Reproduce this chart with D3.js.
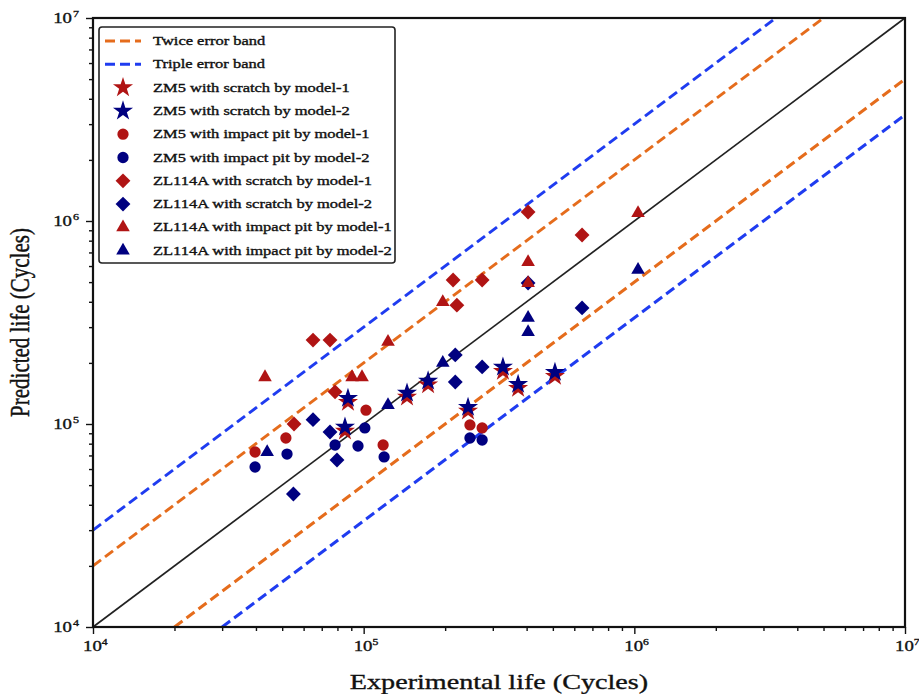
<!DOCTYPE html>
<html>
<head>
<meta charset="utf-8">
<script src="https://cdn.jsdelivr.net/npm/d3@7"></script>
<style>
  body { margin: 0; background: #fff; }
  text { font-family: "Liberation Serif", "Times New Roman", serif; fill: #111; stroke: #111; stroke-width: 0.35px; }
</style>
</head>
<body>
<div id="chart"></div>
<script>
// [experimental life, predicted life]
var zm5ScratchM1 = [[87500,128000],[85300,92400],[144600,136000],[173000,156000],[243000,116000],[327000,182000],[372000,150000],[509000,172000]];
var zm5ScratchM2 = [[87500,134000],[85300,96600],[144600,142000],[173000,163000],[243000,121000],[327000,191000],[372000,157000],[509000,180000]];
var zm5PitM1 = [[39700,72800],[51600,85300],[102000,117000],[118000,78800],[247000,98900],[274000,95600]];
var zm5PitM2 = [[39700,61400],[52100,71100],[78400,78800],[95300,77900],[101000,95600],[119000,68800],[247000,85300],[274000,83400]];
var zlScratchM1 = [[65000,259000],[75100,259000],[55300,100000],[78400,144000],[214000,512000],[274000,512000],[221000,385000],[405000,1107000],[641000,853000]];
var zlScratchM2 = [[65000,105000],[75100,91300],[55000,45200],[79700,66500],[218000,219000],[274000,191000],[218000,161000],[405000,495000],[641000,373000]];
var zlPitM1 = [[43200,170000],[90600,170000],[98600,170000],[123000,254000],[196000,399000],[405000,628000],[405000,495000],[1032000,1094000]];
var zlPitM2 = [[44000,72800],[123000,124000],[196000,200000],[405000,333000],[405000,284000],[1032000,574000]];

var seriesNames = ["ZM5 with scratch by model-1", "ZM5 with scratch by model-2",
  "ZM5 with impact pit by model-1", "ZM5 with impact pit by model-2",
  "ZL114A with scratch by model-1", "ZL114A with scratch by model-2",
  "ZL114A with impact pit by model-1", "ZL114A with impact pit by model-2"];
var bandNames = ["Twice error band", "Triple error band"];
var bandFactors = [2, 3];
var majorTicks = [1e4, 1e5, 1e6, 1e7];

var width = 919, height = 694;
var padL = 93, padR = 905, padT = 18, padB = 627;
var SX = 1.34; // glyphs in the reference are wide

var red = "#b01414", navy = "#000080";
var orange = "#e56c1c", blue = "#1f3cf0";

var svg = d3.select("#chart").append("svg")
    .attr("width", width)
    .attr("height", height);

var x = d3.scaleLog().domain([1e4, 1e7]).range([padL, padR]);
var y = d3.scaleLog().domain([1e4, 1e7]).range([padB, padT]);

function isMajor(d) { return Math.abs(Math.log10(d) - Math.round(Math.log10(d))) < 1e-9; }

function label(g, px, py, str, size, anchor, exp) {
    var t = g.append("text")
        .attr("transform", "translate(" + px + "," + py + ") scale(" + SX + ",1)")
        .attr("text-anchor", anchor)
        .style("font-size", size + "px")
        .text(str);
    if (exp != null) {
        t.append("tspan").attr("dy", -size * 0.4).style("font-size", (size * 0.62) + "px").text(exp);
    }
    return t;
}

// axes with outward ticks
var gx = svg.append("g").attr("transform", "translate(0," + padB + ")")
    .call(d3.axisBottom(x).tickValues(x.ticks()).tickFormat("").tickSizeOuter(0));
gx.select(".domain").remove();
gx.selectAll(".tick line").attr("y2", function(d) { return isMajor(d) ? 7 : 4; })
    .attr("stroke", "#111").attr("stroke-width", 1.4);

var gy = svg.append("g").attr("transform", "translate(" + padL + ",0)")
    .call(d3.axisLeft(y).tickValues(y.ticks()).tickFormat("").tickSizeOuter(0));
gy.select(".domain").remove();
gy.selectAll(".tick line").attr("x2", function(d) { return isMajor(d) ? -7 : -4; })
    .attr("stroke", "#111").attr("stroke-width", 1.4);

majorTicks.forEach(function(d) {
    label(svg, x(d) - 10, padB + 24, "10", 14, "start", Math.log10(d));
    label(svg, padL - 21, y(d) + 5, "10", 14, "end", null);
    svg.append("text")
        .attr("transform", "translate(" + (padL - 20) + "," + (y(d) - 1) + ") scale(" + SX + ",1)")
        .style("font-size", "9px")
        .text(Math.log10(d));
});

// reference lines
var plot = svg.append("g");
var line = d3.line().x(function(d) { return x(d[0]); }).y(function(d) { return y(d[1]); });
function ref(k) {
    var x0 = Math.max(1e4, 1e4 / k), x1 = Math.min(1e7, 1e7 / k);
    return [[x0, x0 * k], [x1, x1 * k]];
}
plot.append("path").datum(ref(1)).attr("d", line)
    .attr("fill", "none").attr("stroke", "#222").attr("stroke-width", 1.7);
bandFactors.forEach(function(f, i) {
    [f, 1 / f].forEach(function(k) {
        plot.append("path").datum(ref(k)).attr("d", line)
            .attr("fill", "none").attr("stroke", i === 0 ? orange : blue).attr("stroke-width", 3)
            .attr("stroke-dasharray", "10,5");
    });
});

// markers
var shapes = [
    {type: d3.symbolStar, size: 125, rot: 0},
    {type: d3.symbolCircle, size: 100, rot: 0},
    {type: d3.symbolSquare, size: 110, rot: 45},
    {type: d3.symbolTriangle, size: 80, rot: 0}
];
var allSeries = [zm5ScratchM1, zm5ScratchM2, zm5PitM1, zm5PitM2, zlScratchM1, zlScratchM2, zlPitM1, zlPitM2];
allSeries.forEach(function(data, i) {
    var s = shapes[Math.floor(i / 2)];
    plot.selectAll(null)
        .data(data)
        .enter()
        .append("path")
        .attr("d", d3.symbol().type(s.type).size(s.size))
        .attr("fill", i % 2 === 0 ? red : navy)
        .attr("transform", function(d) {
            return "translate(" + x(d[0]) + "," + y(d[1]) + ") rotate(" + s.rot + ")";
        });
});

// frame
svg.append("rect")
    .attr("x", padL).attr("y", padT)
    .attr("width", padR - padL).attr("height", padB - padT)
    .attr("fill", "none").attr("stroke", "#111").attr("stroke-width", 2.2);

// legend
var lg = svg.append("g");
lg.append("rect")
    .attr("x", 99).attr("y", 27).attr("width", 296).attr("height", 236)
    .attr("rx", 3).attr("fill", "#fff").attr("stroke", "#222").attr("stroke-width", 1.6);
var rowY = function(i) { return 41 + i * 23.3; };
bandNames.forEach(function(n, i) {
    lg.append("line")
        .attr("x1", 105).attr("x2", 141).attr("y1", rowY(i)).attr("y2", rowY(i))
        .attr("stroke", i === 0 ? orange : blue).attr("stroke-width", 3)
        .attr("stroke-dasharray", "10,5");
    label(lg, 153, rowY(i) + 4, n, 12.3, "start", null);
});
seriesNames.forEach(function(n, i) {
    var s = shapes[Math.floor(i / 2)];
    lg.append("path")
        .attr("d", d3.symbol().type(s.type).size(s.size))
        .attr("fill", i % 2 === 0 ? red : navy)
        .attr("transform", "translate(123," + rowY(i + 2) + ") rotate(" + s.rot + ")");
    label(lg, 153, rowY(i + 2) + 4, n, 12.3, "start", null);
});

// axis titles
label(svg, (padL + padR) / 2, 689, "Experimental life (Cycles)", 21, "middle", null);
svg.append("text")
    .attr("transform", "translate(29," + ((padT + padB) / 2) + ") scale(" + SX + ",1) rotate(-90)")
    .attr("text-anchor", "middle")
    .style("font-size", "21px")
    .text("Predicted life (Cycles)");
</script>
</body>
</html>
